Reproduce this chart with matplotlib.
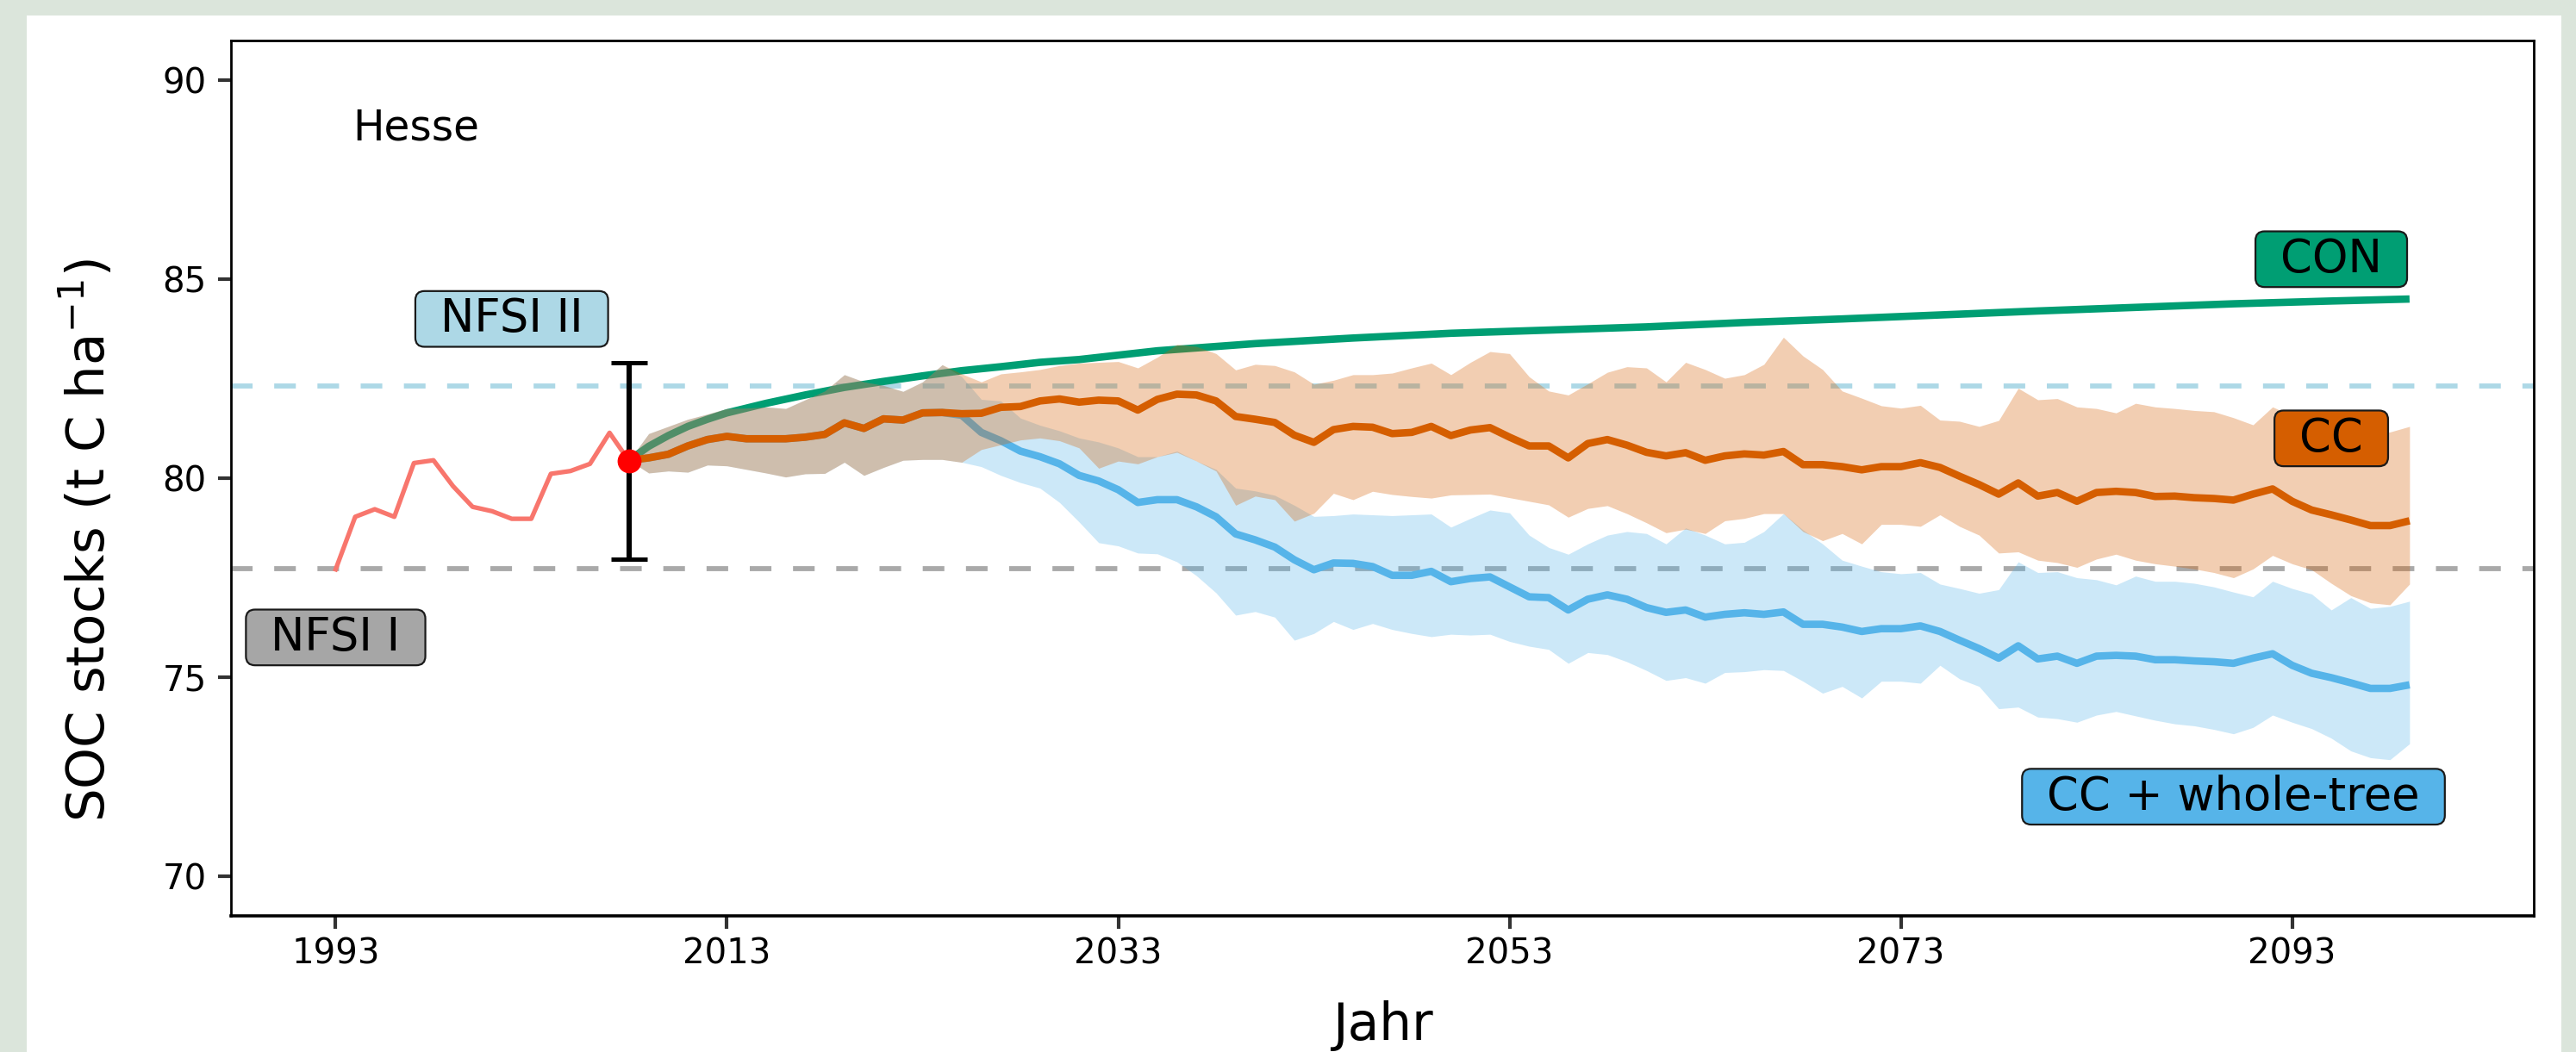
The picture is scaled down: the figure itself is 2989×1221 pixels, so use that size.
import matplotlib
matplotlib.use("Agg")
import matplotlib.pyplot as plt
from matplotlib.patches import Rectangle, BoxStyle

# observed stocks before the second inventory
obs_years = list(range(1993, 2009))
obs_soc = [77.71, 79.03, 79.22, 79.03, 80.38, 80.45, 79.80, 79.28,
           79.17, 78.98, 78.98, 80.11, 80.18, 80.36, 81.14, 80.43]

# inventory point with error bar, and the two inventory levels
nfsi_year = 2008
nfsi_soc = 80.43
nfsi_low = 77.96
nfsi_high = 82.91
nfsi1_level = 77.72
nfsi2_level = 82.32

# CON scenario (smooth curve)
con_years = [2008, 2009, 2010, 2011, 2012, 2013, 2015, 2017, 2019, 2021, 2023, 2025,
             2027, 2029, 2031, 2035, 2040, 2045, 2050, 2055, 2060, 2065, 2070, 2075,
             2080, 2085, 2090, 2095, 2099]
con_soc = [80.45, 80.80, 81.07, 81.30, 81.48, 81.64, 81.88, 82.09, 82.28, 82.43, 82.57, 82.70,
           82.80, 82.91, 82.98, 83.20, 83.38, 83.52, 83.64, 83.72, 83.80, 83.91, 84.00, 84.10,
           84.20, 84.29, 84.38, 84.45, 84.50]

sim_years = list(range(2008, 2100))

# CC scenario: mean and band
cc_mean = [80.45, 80.51, 80.60, 80.81, 80.97, 81.05, 80.99, 80.99, 80.99, 81.03,
           81.10, 81.39, 81.25, 81.49, 81.46, 81.64, 81.65, 81.62, 81.63, 81.78,
           81.80, 81.94, 81.99, 81.91, 81.96, 81.94, 81.71, 81.98, 82.11, 82.09,
           81.94, 81.55, 81.48, 81.40, 81.08, 80.90, 81.22, 81.30, 81.28, 81.12,
           81.15, 81.30, 81.07, 81.21, 81.27, 81.03, 80.81, 80.81, 80.51, 80.87,
           80.97, 80.83, 80.65, 80.56, 80.64, 80.45, 80.56, 80.61, 80.58, 80.67,
           80.34, 80.34, 80.29, 80.21, 80.29, 80.29, 80.39, 80.27, 80.05, 79.84,
           79.60, 79.88, 79.55, 79.64, 79.42, 79.64, 79.67, 79.64, 79.54, 79.55,
           79.51, 79.49, 79.45, 79.60, 79.73, 79.42, 79.20, 79.08, 78.95, 78.81,
           78.81, 78.93]
cc_hi = [80.45, 81.12, 81.30, 81.48, 81.61, 81.75, 81.76, 81.79, 81.75, 81.97,
         82.19, 82.60, 82.42, 82.33, 82.18, 82.42, 82.85, 82.62, 82.42, 82.62,
         82.67, 82.73, 82.83, 82.89, 82.91, 82.93, 82.77, 83.04, 83.36, 83.31,
         83.13, 82.72, 82.86, 82.83, 82.67, 82.36, 82.46, 82.60, 82.60, 82.64,
         82.77, 82.89, 82.60, 82.91, 83.18, 83.13, 82.55, 82.19, 82.09, 82.37,
         82.66, 82.80, 82.77, 82.42, 82.91, 82.73, 82.51, 82.60, 82.86, 83.54,
         83.07, 82.73, 82.19, 82.01, 81.82, 81.76, 81.83, 81.46, 81.43, 81.30,
         81.45, 82.26, 81.97, 82.00, 81.79, 81.75, 81.64, 81.88, 81.79, 81.75,
         81.70, 81.67, 81.52, 81.34, 81.79, 81.57, 81.43, 81.30, 81.21, 81.10,
         81.16, 81.30]
cc_lo = [80.45, 80.13, 80.18, 80.15, 80.33, 80.31, 80.22, 80.13, 80.03, 80.11,
         80.12, 80.40, 80.07, 80.27, 80.45, 80.47, 80.47, 80.40, 80.72, 80.84,
         80.96, 81.01, 80.94, 80.76, 80.25, 80.43, 80.36, 80.54, 80.65, 80.43,
         80.18, 79.32, 79.55, 79.46, 78.92, 79.12, 79.62, 79.46, 79.67, 79.59,
         79.54, 79.50, 79.58, 79.59, 79.60, 79.51, 79.42, 79.33, 79.02, 79.24,
         79.31, 79.11, 78.88, 78.63, 78.72, 78.61, 78.93, 78.99, 79.11, 79.11,
         78.66, 78.43, 78.61, 78.35, 78.84, 78.84, 78.79, 79.08, 78.79, 78.57,
         78.12, 78.15, 77.94, 77.88, 77.76, 77.97, 78.09, 77.94, 77.85, 77.79,
         77.72, 77.63, 77.50, 77.72, 78.06, 77.85, 77.70, 77.36, 77.05, 76.87,
         76.82, 77.34]

# CC + whole-tree scenario: mean and band
wt_mean = [80.45, 80.51, 80.60, 80.81, 80.97, 81.05, 80.99, 80.99, 80.99, 81.03,
           81.10, 81.39, 81.25, 81.49, 81.46, 81.64, 81.65, 81.58, 81.15, 80.94,
           80.68, 80.54, 80.36, 80.07, 79.93, 79.71, 79.39, 79.46, 79.46, 79.28,
           79.03, 78.60, 78.45, 78.27, 77.95, 77.70, 77.87, 77.86, 77.78, 77.56,
           77.56, 77.66, 77.40, 77.48, 77.52, 77.27, 77.02, 77.00, 76.69, 76.96,
           77.07, 76.96, 76.75, 76.63, 76.69, 76.51, 76.58, 76.62, 76.58, 76.64,
           76.33, 76.33, 76.26, 76.15, 76.22, 76.22, 76.29, 76.15, 75.93, 75.72,
           75.48, 75.79, 75.46, 75.53, 75.35, 75.53, 75.55, 75.53, 75.44, 75.44,
           75.41, 75.39, 75.35, 75.48, 75.59, 75.30, 75.10, 74.99, 74.86, 74.72,
           74.72, 74.81]
wt_hi = [80.45, 81.12, 81.30, 81.48, 81.61, 81.75, 81.76, 81.79, 81.75, 81.97,
         82.19, 82.60, 82.42, 82.33, 82.18, 82.42, 82.85, 82.55, 81.98, 81.94,
         81.51, 81.33, 81.19, 81.01, 80.91, 80.76, 80.54, 80.54, 80.68, 80.43,
         80.22, 79.75, 79.68, 79.57, 79.32, 79.04, 79.06, 79.10, 79.08, 79.06,
         79.08, 79.10, 78.77, 78.99, 79.20, 79.13, 78.57, 78.26, 78.09, 78.35,
         78.57, 78.66, 78.61, 78.35, 78.75, 78.57, 78.35, 78.39, 78.66, 79.11,
         78.70, 78.35, 77.94, 77.79, 77.65, 77.60, 77.63, 77.34, 77.23, 77.11,
         77.20, 77.90, 77.63, 77.65, 77.50, 77.45, 77.32, 77.54, 77.41, 77.41,
         77.36, 77.27, 77.14, 77.02, 77.41, 77.23, 77.09, 76.69, 77.00, 76.73,
         76.78, 76.91]
wt_lo = [80.45, 80.13, 80.18, 80.15, 80.33, 80.31, 80.22, 80.13, 80.03, 80.11,
         80.12, 80.40, 80.07, 80.27, 80.45, 80.47, 80.47, 80.40, 80.29, 80.07,
         79.89, 79.75, 79.39, 78.90, 78.38, 78.30, 78.12, 78.10, 77.90, 77.55,
         77.12, 76.56, 76.65, 76.51, 75.93, 76.10, 76.40, 76.20, 76.35, 76.20,
         76.10, 76.02, 76.08, 76.06, 76.08, 75.90, 75.78, 75.70, 75.35, 75.62,
         75.57, 75.39, 75.17, 74.92, 74.99, 74.85, 75.12, 75.14, 75.19, 75.17,
         74.90, 74.60, 74.77, 74.48, 74.90, 74.90, 74.85, 75.30, 74.96, 74.77,
         74.21, 74.25, 74.00, 73.96, 73.87, 74.05, 74.14, 74.03, 73.92, 73.83,
         73.78, 73.69, 73.58, 73.74, 74.05, 73.87, 73.71, 73.47, 73.15, 72.98,
         72.93, 73.33]

x_ticks = [1993, 2013, 2033, 2053, 2073, 2093]
y_ticks = [70, 75, 80, 85, 90]

col_con = "#009E73"
col_cc = "#D55E00"
col_wt = "#56B4E9"

plt.rcParams["font.family"] = ["DejaVu Sans"]
plt.rcParams["mathtext.default"] = "regular"

fig = plt.figure(figsize=(29.89, 12.21), dpi=100, facecolor="#dbe5db")
fig.add_artist(Rectangle((31 / 2989, 0), (2972 - 31) / 2989, (1221 - 18) / 1221,
                         transform=fig.transFigure, facecolor="white",
                         edgecolor="none", zorder=0))
ax = fig.add_axes([268 / 2989, (1221 - 1063.3) / 1221, 2672 / 2989, 1016.6 / 1221])
ax.set_facecolor("white")

# inventory levels
ax.axhline(nfsi1_level, color="#A9A9A9", lw=4.2, dashes=(4.3, 4.3), zorder=1)
ax.axhline(nfsi2_level, color="#ADD8E6", lw=4.2, dashes=(4.3, 4.3), zorder=1)

# scenarios
ax.plot(con_years, con_soc, color=col_con, lw=6.2, zorder=2, solid_capstyle="butt")
ax.fill_between(sim_years, wt_lo, wt_hi, color=col_wt, alpha=0.3, lw=0, zorder=3)
ax.plot(sim_years, wt_mean, color=col_wt, lw=6.2, zorder=4, solid_capstyle="butt")
ax.fill_between(sim_years, cc_lo, cc_hi, color=col_cc, alpha=0.3, lw=0, zorder=5)
ax.plot(sim_years, cc_mean, color=col_cc, lw=6.2, zorder=6, solid_capstyle="butt")

# observed series and inventory point
ax.plot(obs_years, obs_soc, color="#F8766D", lw=3.8, zorder=6)
ax.errorbar([nfsi_year], [nfsi_soc],
            yerr=[[nfsi_soc - nfsi_low], [nfsi_high - nfsi_soc]],
            fmt="none", ecolor="black", elinewidth=4.4, capsize=15, capthick=3.6,
            zorder=7)
ax.plot([nfsi_year], [nfsi_soc], "o", color="red", markersize=19, zorder=8)


def label_box(x0, y0, width, height, mutation_size):
    # rounded box, wider padding left/right than top/bottom
    padx = 0.55 * mutation_size
    pady = 0.12 * mutation_size
    return BoxStyle.Round(pad=0, rounding_size=0.2)(
        x0 - padx, y0 - pady, width + 2 * padx, height + 2 * pady, mutation_size)


def tag(x, y, text, fill):
    ax.text(x, y, text, fontsize=38, ha="center", va="center", color="black", zorder=10,
            bbox=dict(boxstyle=label_box, facecolor=fill, edgecolor="#1a1a1a", lw=1.6))


tag(2002, 84.0, "NFSI II", "#ADD8E6")
tag(1993, 76.0, "NFSI I", "#A6A6A6")
tag(2095, 85.5, "CON", col_con)
tag(2095, 81.0, "CC", col_cc)
tag(2090, 72.0, "CC + whole-tree", col_wt)

ax.text(1997.1, 88.8, "Hesse", fontsize=35, ha="center", va="center", color="black")

ax.set_xlim(1987.65, 2105.35)
ax.set_ylim(69.0, 91.0)
ax.set_xticks(x_ticks)
ax.set_yticks(y_ticks)
ax.tick_params(axis="both", length=10.5, width=3.0, color="#333333",
               labelsize=29, labelcolor="black")
ax.tick_params(axis="x", pad=7)
ax.tick_params(axis="y", pad=10)
for s in ax.spines.values():
    s.set_linewidth(2.0)
    s.set_color("black")
ax.spines["bottom"].set_linewidth(2.6)

ax.set_xlabel("Jahr", fontsize=43)
ax.xaxis.label.set_va("baseline")
ax.xaxis.set_label_coords(0.5, -0.141)
ax.set_ylabel("SOC stocks (t C ha$^{-1}$)", fontsize=44)
ax.yaxis.label.set_va("baseline")
ax.yaxis.set_label_coords(-0.0545, 0.429)

fig.savefig("out.png", dpi=100, facecolor=fig.get_facecolor())
